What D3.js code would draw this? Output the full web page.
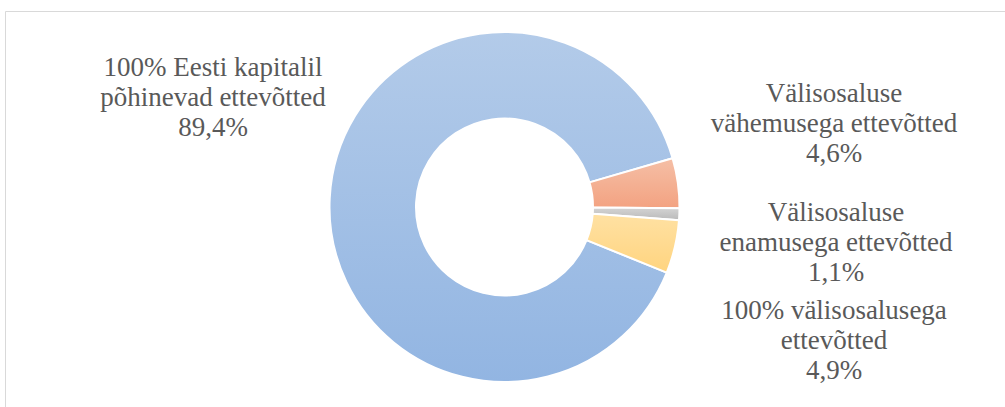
<!DOCTYPE html>
<html>
<head>
<meta charset="utf-8">
<script src="https://cdn.jsdelivr.net/npm/d3@7"></script>
<style>
  body { margin: 0; background: #fff; }
  svg { display: block; }
</style>
</head>
<body>
<svg id="canvas"></svg>
<script>
// doughnut: company split by capital origin

let categories = [
    '100% Eesti kapitalil põhinevad ettevõtted',
    'Välisosaluse vähemusega ettevõtted',
    'Välisosaluse enamusega ettevõtted',
    '100% välisosalusega ettevõtted'
];
let shares = [89.4, 4.6, 1.1, 4.9];
let labelLines = [
    ['100% Eesti kapitalil', 'põhinevad ettevõtted', '89,4%'],
    ['Välisosaluse', 'vähemusega ettevõtted', '4,6%'],
    ['Välisosaluse', 'enamusega ettevõtted', '1,1%'],
    ['100% välisosalusega', 'ettevõtted', '4,9%']
];
// gradient top / bottom for each slice
let sliceTop = ['#b3cbe9', '#f5bfa6', '#d4d4d4', '#ffe1a3'];
let sliceBottom = ['#92b5e2', '#f3a281', '#b9b9b9', '#ffd47f'];

let width = 1005;
let height = 407;

const canvas = d3.select('#canvas');
canvas.attr('width', width).attr('height', height);

// chart area frame (cropped on right and bottom)
canvas.append('path')
    .attr('d', `M5.5,${height}V11.5H${width}`)
    .attr('fill', 'none')
    .attr('stroke', '#d9d9d9')
    .attr('stroke-width', 1);

let cx = 504.5;
let cy = 207;
let outerR = 175;
let innerR = 88.5;

const defs = canvas.append('defs');
shares.forEach((s, i) => {
    let g = defs.append('linearGradient')
        .attr('id', 'grad' + i)
        .attr('x1', 0).attr('y1', 0)
        .attr('x2', 0).attr('y2', 1);
    g.append('stop').attr('offset', '0%').attr('stop-color', sliceTop[i]);
    g.append('stop').attr('offset', '100%').attr('stop-color', sliceBottom[i]);
});

// first slice starts at ~112 deg clockwise from 12 o'clock
let startA = 112 * Math.PI / 180;
const pie = d3.pie()
    .sort(null)
    .value((d) => d)
    .startAngle(startA)
    .endAngle(startA + 2 * Math.PI);

const arc = d3.arc().innerRadius(innerR).outerRadius(outerR);

const donut = canvas.append('g').attr('transform', `translate(${cx},${cy})`);

donut.selectAll('path')
    .data(pie(shares))
    .enter()
    .append('path')
    .attr('d', arc)
    .attr('fill', (d, i) => `url(#grad${i})`)
    .attr('stroke', '#fff')
    .attr('stroke-width', 2)
    .attr('stroke-linejoin', 'round');

// data labels
let labelX = [213, 834, 836, 834];
let labelY = [76, 102, 221, 319];
let lineGap = 30;

labelLines.forEach((lines, i) => {
    let t = canvas.append('text')
        .attr('text-anchor', 'middle')
        .attr('font-family', 'Liberation Serif, serif')
        .attr('font-size', 27)
        .attr('fill', '#595959');
    lines.forEach((ln, j) => {
        t.append('tspan')
            .attr('x', labelX[i])
            .attr('y', labelY[i] + j * lineGap)
            .text(ln);
    });
});
</script>
</body>
</html>
